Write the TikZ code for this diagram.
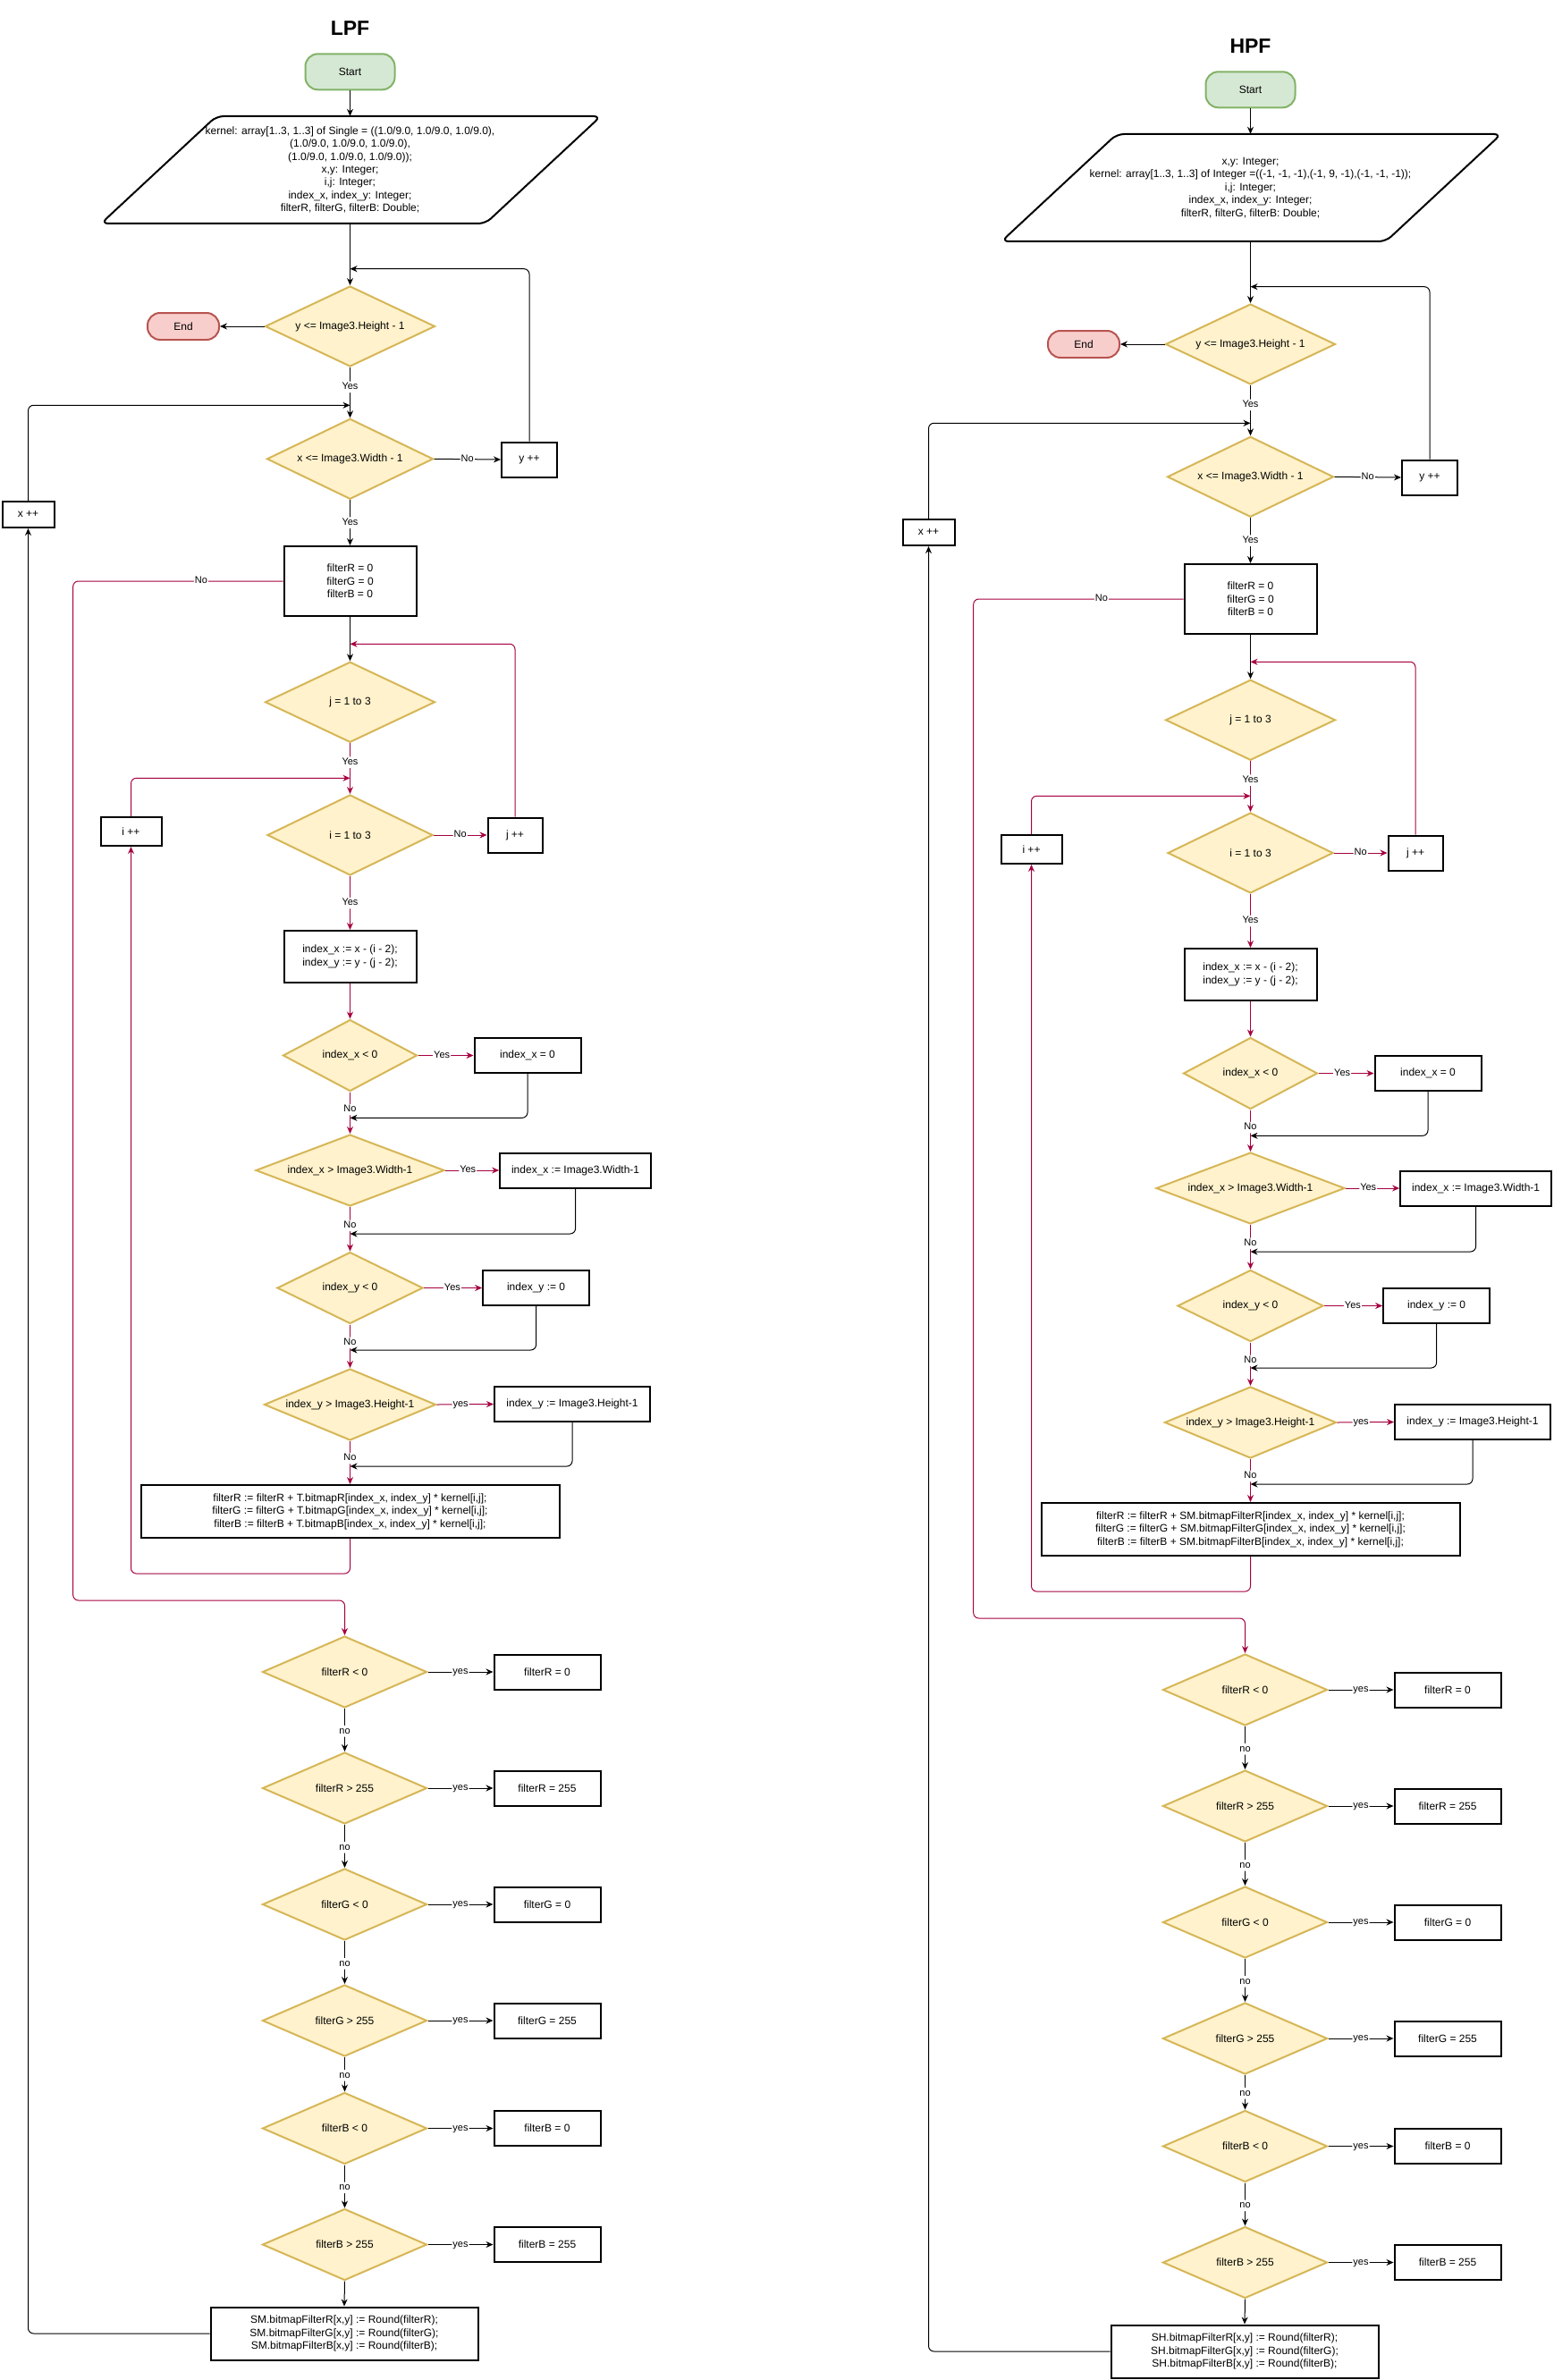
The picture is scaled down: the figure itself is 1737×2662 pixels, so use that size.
\documentclass[tikz,border=0pt]{standalone}
\usepackage{fontspec}
\setmainfont{Liberation Sans}
\usetikzlibrary{shapes.geometric,arrows.meta}
\definecolor{crim}{HTML}{A50040}
\definecolor{lyell}{HTML}{FFF2CC}
\definecolor{dyell}{HTML}{D6B656}
\definecolor{lgreen}{HTML}{D5E8D4}
\definecolor{dgreen}{HTML}{82B366}
\definecolor{lred}{HTML}{F8CECC}
\definecolor{dred}{HTML}{B85450}
\tikzset{
  base/.style={font=\fontsize{12}{14.4}\selectfont, align=center, inner sep=0pt},
  proc/.style={base, rectangle, draw=black, line width=2pt, fill=white},
  dec/.style={base, diamond, draw=dyell, fill=lyell, line width=2pt, shape aspect=2.4},
  term/.style={base, rectangle, rounded corners=14pt, line width=2pt},
  con/.style={line width=1pt, draw=black, -{Stealth[length=8pt,width=7pt]}, rounded corners=6pt},
  rcon/.style={con, draw=crim},
  lbl/.style={font=\fontsize{11}{13}\selectfont, fill=white, inner sep=1pt, text=black, text height=8pt, text depth=2.5pt},
  sz/.style 2 args={minimum width=#1pt, minimum height=#2pt},
}
\newcommand{\filterflow}[7]{%
\begin{scope}[shift={(#2,#3)}, name prefix=#1-]
  \node[font=\bfseries\fontsize{23}{27}\selectfont] (title) at (391.5,31.7) {#4};
  \node[term, fill=lgreen, draw=dgreen, sz={100}{40}] (start) at (391.5,80.3) {Start};
  \node[base, sz={300}{120}] (para) at (391.5,190) {#5};
  \draw[line width=2pt, rounded corners=8pt] (para.center) ++(-149.5,-60) -- ++(430,0) -- ++(-129,120) -- ++(-430,0) -- cycle;
  \node[dec, sz={190}{90}] (d1) at (391.5,365) {y <= Image3.Height - 1};
  \node[term, fill=lred, draw=dred, sz={80}{30}] (end) at (205,365) {End};
  \node[dec, sz={186}{90}] (d2) at (391.5,513.3) {x <= Image3.Width - 1};
  \node[proc, sz={62}{39}] (yinc) at (592,514) {y ++};
  \node[proc, sz={58}{29}] (xinc) at (31.5,575.5) {x ++};
  \node[proc, sz={148}{78}] (finit) at (391.5,650) {filterR = 0\\filterG = 0\\filterB = 0};
  \node[dec, sz={190}{90}] (dj) at (391.5,785.3) {j = 1 to 3};
  \node[dec, sz={185}{90}] (di) at (391.5,934) {i = 1 to 3};
  \node[proc, sz={61}{39}] (jinc) at (576,934) {j ++};
  \node[proc, sz={68}{32}] (iinc) at (146.5,930) {i ++};
  \node[proc, sz={148}{58}] (idx) at (391.5,1070) {index\_x := x - (i - 2);\\index\_y := y - (j - 2);};
  \node[dec, sz={150}{80}] (dx0) at (391.5,1180.5) {index\_x < 0};
  \node[proc, sz={119}{39}] (bx0) at (590,1180.5) {index\_x = 0};
  \node[dec, sz={211}{80}] (dxw) at (391.5,1309) {index\_x > Image3.Width-1};
  \node[proc, sz={169}{39}] (bxw) at (643.6,1309) {index\_x := Image3.Width-1};
  \node[dec, sz={163}{80}] (dy0) at (391.5,1440.5) {index\_y < 0};
  \node[proc, sz={119}{39}] (by0) at (599.6,1440.5) {index\_y := 0};
  \node[dec, sz={192}{80}] (dyh) at (391.5,1571) {index\_y > Image3.Height-1};
  \node[proc, sz={174}{39}] (byh) at (640,1570.5) {index\_y := Image3.Height-1};
  \node[proc, sz={468}{59}] (sum) at (391.5,1690.5) {#6};
  \node[dec, sz={184}{80}] (fr0) at (385.5,1870) {filterR < 0};
  \node[proc, sz={119}{39}] (fr0b) at (612,1870) {filterR = 0};
  \node[dec, sz={184}{80}] (fr1) at (385.5,2000) {filterR > 255};
  \node[proc, sz={119}{39}] (fr1b) at (612,2000) {filterR = 255};
  \node[dec, sz={184}{80}] (fg0) at (385.5,2130) {filterG < 0};
  \node[proc, sz={119}{39}] (fg0b) at (612,2130) {filterG = 0};
  \node[dec, sz={184}{80}] (fg1) at (385.5,2260) {filterG > 255};
  \node[proc, sz={119}{39}] (fg1b) at (612,2260) {filterG = 255};
  \node[dec, sz={184}{80}] (fb0) at (385.5,2380.5) {filterB < 0};
  \node[proc, sz={119}{39}] (fb0b) at (612,2380.5) {filterB = 0};
  \node[dec, sz={184}{80}] (fb1) at (385.5,2510.5) {filterB > 255};
  \node[proc, sz={119}{39}] (fb1b) at (612,2510.5) {filterB = 255};
  \node[proc, sz={299}{59}] (out) at (385,2610) {#7};
  \coordinate (jy) at (391.5,300.7);
  \coordinate (jx) at (391.5,453.3);
  \coordinate (jj) at (391.5,720.3);
  \coordinate (ji) at (391.5,870.3);
  \coordinate (r1) at (391.5,1250.3);
  \coordinate (r2) at (391.5,1380);
  \coordinate (r3) at (391.5,1510);
  \coordinate (r4) at (391.5,1640);
  \coordinate (nA) at (81.7,650);
  \coordinate (nB) at (81.7,1790);
  \coordinate (sA) at (391.5,1760);
  \coordinate (sB) at (146.5,1760);
  \coordinate (oA) at (31.5,2610);
  % main loop
  \draw[con] (start.south) -- (para.north);
  \draw[con] (para.south) -- (d1.north);
  \draw[con] (yinc.north) |- (jy);
  \draw[con] (d1.west) -- (end.east);
  \draw[con] (d1.south) -- node[lbl,pos=0.39]{Yes} (d2.north);
  \draw[con] (xinc.north) |- (jx);
  \draw[con] (d2.east) -- node[lbl]{No} (yinc.west);
  \draw[con] (d2.south) -- node[lbl]{Yes} (finit.north);
  \draw[rcon] (finit.west) -- node[lbl,pos=0.39]{No} (nA) -- (nB) -| (fr0.north);
  \draw[con] (finit.south) -- (dj.north);
  \draw[rcon] (jinc.north) |- (jj);
  \draw[rcon] (dj.south) -- node[lbl,pos=0.375]{Yes} (di.north);
  \draw[rcon] (iinc.north) |- (ji);
  \draw[rcon] (di.east) -- node[lbl]{No} (jinc.west);
  \draw[rcon] (di.south) -- node[lbl]{Yes} (idx.north);
  \draw[rcon] (idx.south) -- (dx0.north);
  \draw[rcon] (dx0.east) -- node[lbl,pos=0.43]{Yes} (bx0.west);
  \draw[con] (bx0.south) |- (r1);
  \draw[rcon] (dx0.south) -- node[lbl,pos=0.42]{No} (dxw.north);
  \draw[rcon] (dxw.east) -- node[lbl,pos=0.42]{Yes} (bxw.west);
  \draw[con] (bxw.south) |- (r2);
  \draw[rcon] (dxw.south) -- node[lbl,pos=0.42]{No} (dy0.north);
  \draw[rcon] (dy0.east) -- node[lbl,pos=0.49]{Yes} (by0.west);
  \draw[con] (by0.south) |- (r3);
  \draw[rcon] (dy0.south) -- node[lbl,pos=0.42]{No} (dyh.north);
  \draw[rcon] (dyh.east) -- node[lbl,pos=0.42]{yes} (byh.west);
  \draw[con] (byh.south) |- (r4);
  \draw[rcon] (dyh.south) -- node[lbl,pos=0.4]{No} (sum.north);
  \draw[rcon] (sum.south) -- (sA) -- (sB) -- (iinc.south);
  % clamping
  \draw[con] (fr0.east) -- node[lbl]{yes} (fr0b.west);
  \draw[con] (fr0.south) -- node[lbl,pos=0.53]{no} (fr1.north);
  \draw[con] (fr1.east) -- node[lbl]{yes} (fr1b.west);
  \draw[con] (fr1.south) -- node[lbl,pos=0.53]{no} (fg0.north);
  \draw[con] (fg0.east) -- node[lbl]{yes} (fg0b.west);
  \draw[con] (fg0.south) -- node[lbl,pos=0.53]{no} (fg1.north);
  \draw[con] (fg1.east) -- node[lbl]{yes} (fg1b.west);
  \draw[con] (fg1.south) -- node[lbl,pos=0.53]{no} (fb0.north);
  \draw[con] (fb0.east) -- node[lbl]{yes} (fb0b.west);
  \draw[con] (fb0.south) -- node[lbl,pos=0.53]{no} (fb1.north);
  \draw[con] (fb1.east) -- node[lbl]{yes} (fb1b.west);
  \draw[con] (fb1.south) -- (out.north);
  \draw[con] (out.west) -- (oA) -- (xinc.south);
\end{scope}}
\begin{document}
\begin{tikzpicture}[x=1pt,y=-1pt]
  \fill[white] (0,0) rectangle (1737,2662);
  \useasboundingbox (0,0) rectangle (1737,2662);
  \filterflow{L}{0}{0}{LPF}%
    {kernel: array[1..3, 1..3] of Single = ((1.0/9.0, 1.0/9.0, 1.0/9.0),\\(1.0/9.0, 1.0/9.0, 1.0/9.0),\\(1.0/9.0, 1.0/9.0, 1.0/9.0));\\x,y: Integer;\\i,j: Integer;\\index\_x, index\_y: Integer;\\filterR, filterG, filterB: Double;}%
    {filterR := filterR + T.bitmapR[index\_x, index\_y] * kernel[i,j];\\filterG := filterG + T.bitmapG[index\_x, index\_y] * kernel[i,j];\\filterB := filterB + T.bitmapB[index\_x, index\_y] * kernel[i,j];}%
    {SM.bitmapFilterR[x,y] := Round(filterR);\\SM.bitmapFilterG[x,y] := Round(filterG);\\SM.bitmapFilterB[x,y] := Round(filterB);}
  \filterflow{H}{1007}{20}{HPF}%
    {x,y: Integer;\\kernel: array[1..3, 1..3] of Integer =((-1, -1, -1),(-1, 9, -1),(-1, -1, -1));\\i,j: Integer;\\index\_x, index\_y: Integer;\\filterR, filterG, filterB: Double;}%
    {filterR := filterR + SM.bitmapFilterR[index\_x, index\_y] * kernel[i,j];\\filterG := filterG + SM.bitmapFilterG[index\_x, index\_y] * kernel[i,j];\\filterB := filterB + SM.bitmapFilterB[index\_x, index\_y] * kernel[i,j];}%
    {SH.bitmapFilterR[x,y] := Round(filterR);\\SH.bitmapFilterG[x,y] := Round(filterG);\\SH.bitmapFilterB[x,y] := Round(filterB);}
\end{tikzpicture}
\end{document}
